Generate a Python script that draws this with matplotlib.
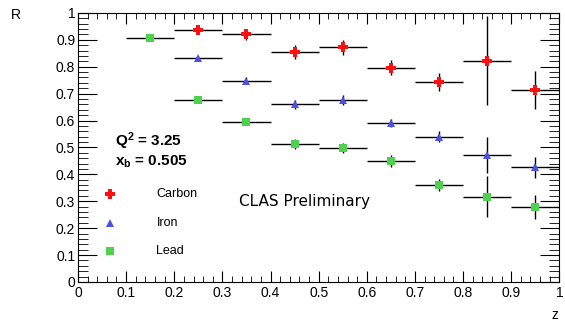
import numpy as np
import matplotlib
matplotlib.use('agg')
import matplotlib.pyplot as plt
from matplotlib.ticker import MultipleLocator

# bin centers and values
z_carbon = [0.25, 0.35, 0.45, 0.55, 0.65, 0.75, 0.85, 0.95]
r_carbon = [0.937, 0.920, 0.855, 0.873, 0.797, 0.743, 0.822, 0.713]
e_carbon = [0.015, 0.020, 0.025, 0.028, 0.028, 0.035, 0.165, 0.071]

z_iron = [0.25, 0.35, 0.45, 0.55, 0.65, 0.75, 0.85, 0.95]
r_iron = [0.833, 0.748, 0.660, 0.677, 0.592, 0.540, 0.472, 0.426]
e_iron = [0.008, 0.012, 0.018, 0.018, 0.015, 0.020, 0.068, 0.040]

z_lead = [0.15, 0.25, 0.35, 0.45, 0.55, 0.65, 0.75, 0.85, 0.95]
r_lead = [0.905, 0.678, 0.596, 0.512, 0.498, 0.450, 0.359, 0.317, 0.278]
e_lead = [0.006, 0.010, 0.012, 0.018, 0.020, 0.022, 0.022, 0.077, 0.045]

tick_vals = [0, 0.1, 0.2, 0.3, 0.4, 0.5, 0.6, 0.7, 0.8, 0.9, 1]
tick_text = ['0', '0.1', '0.2', '0.3', '0.4', '0.5', '0.6', '0.7',
             '0.8', '0.9', '1']

half_bin = 0.05

plt.rcParams['font.family'] = ['Liberation Sans', 'DejaVu Sans']
plt.rcParams['mathtext.fontset'] = 'custom'
plt.rcParams['mathtext.rm'] = 'Liberation Sans'
plt.rcParams['mathtext.bf'] = 'Liberation Sans:bold'

fig = plt.figure(figsize=(5.65, 3.23), dpi=100)
ax = fig.add_axes([0.138, 0.127, 0.852, 0.833])

series = [
    (z_carbon, r_carbon, e_carbon, 'P', '#ff1010', 6.5, 'Carbon'),
    (z_iron, r_iron, e_iron, '^', '#5050e0', 5.5, 'Iron'),
    (z_lead, r_lead, e_lead, 's', '#50d050', 5.5, 'Lead'),
]
for zz, rr, ee, mk, col, ms, name in series:
    ax.errorbar(zz, rr, xerr=half_bin, yerr=ee, fmt='none', ecolor='black',
                elinewidth=1.0, capsize=0, zorder=2)
    ax.plot(zz, rr, linestyle='none', marker=mk, color=col, markersize=ms,
            markeredgewidth=0, zorder=3)

# legend drawn by hand as in the original
leg_y = [0.327, 0.22, 0.116]
for (zz, rr, ee, mk, col, ms, name), y in zip(series, leg_y):
    ax.plot([0.066], [y], linestyle='none', marker=mk, color=col,
            markersize=ms, markeredgewidth=0)
    ax.text(0.163, y, name, fontsize=9, va='center', ha='left')

ax.text(0.077, 0.525, r'$\mathbf{Q^2}$ = 3.25', fontsize=11,
        fontweight='bold', va='center')
ax.text(0.077, 0.447, r'$\mathbf{x_b}$ = 0.505', fontsize=11,
        fontweight='bold', va='center')
ax.text(0.335, 0.298, 'CLAS Preliminary', fontsize=11, va='center',
        family='DejaVu Sans')

ax.set_xlim(0, 1)
ax.set_ylim(0, 1)
ax.set_xticks(tick_vals)
ax.set_xticklabels(tick_text)
ax.set_yticks(tick_vals)
ax.set_yticklabels(tick_text)
ax.xaxis.set_minor_locator(MultipleLocator(0.02))
ax.yaxis.set_minor_locator(MultipleLocator(0.02))
ax.tick_params(axis='both', which='both', direction='in', top=True,
               right=True, labelsize=10)
ax.tick_params(axis='x', which='major', length=8)
ax.tick_params(axis='x', which='minor', length=4)
ax.tick_params(axis='y', which='major', length=14)
ax.tick_params(axis='y', which='minor', length=7)
ax.tick_params(axis='x', pad=3)
ax.tick_params(axis='y', pad=2)

fig.text(0.02, 0.955, 'R', fontsize=10, ha='left', va='center')
fig.text(0.982, 0.025, 'z', fontsize=10, ha='center', va='center')

fig.savefig('out.png', dpi=100)
